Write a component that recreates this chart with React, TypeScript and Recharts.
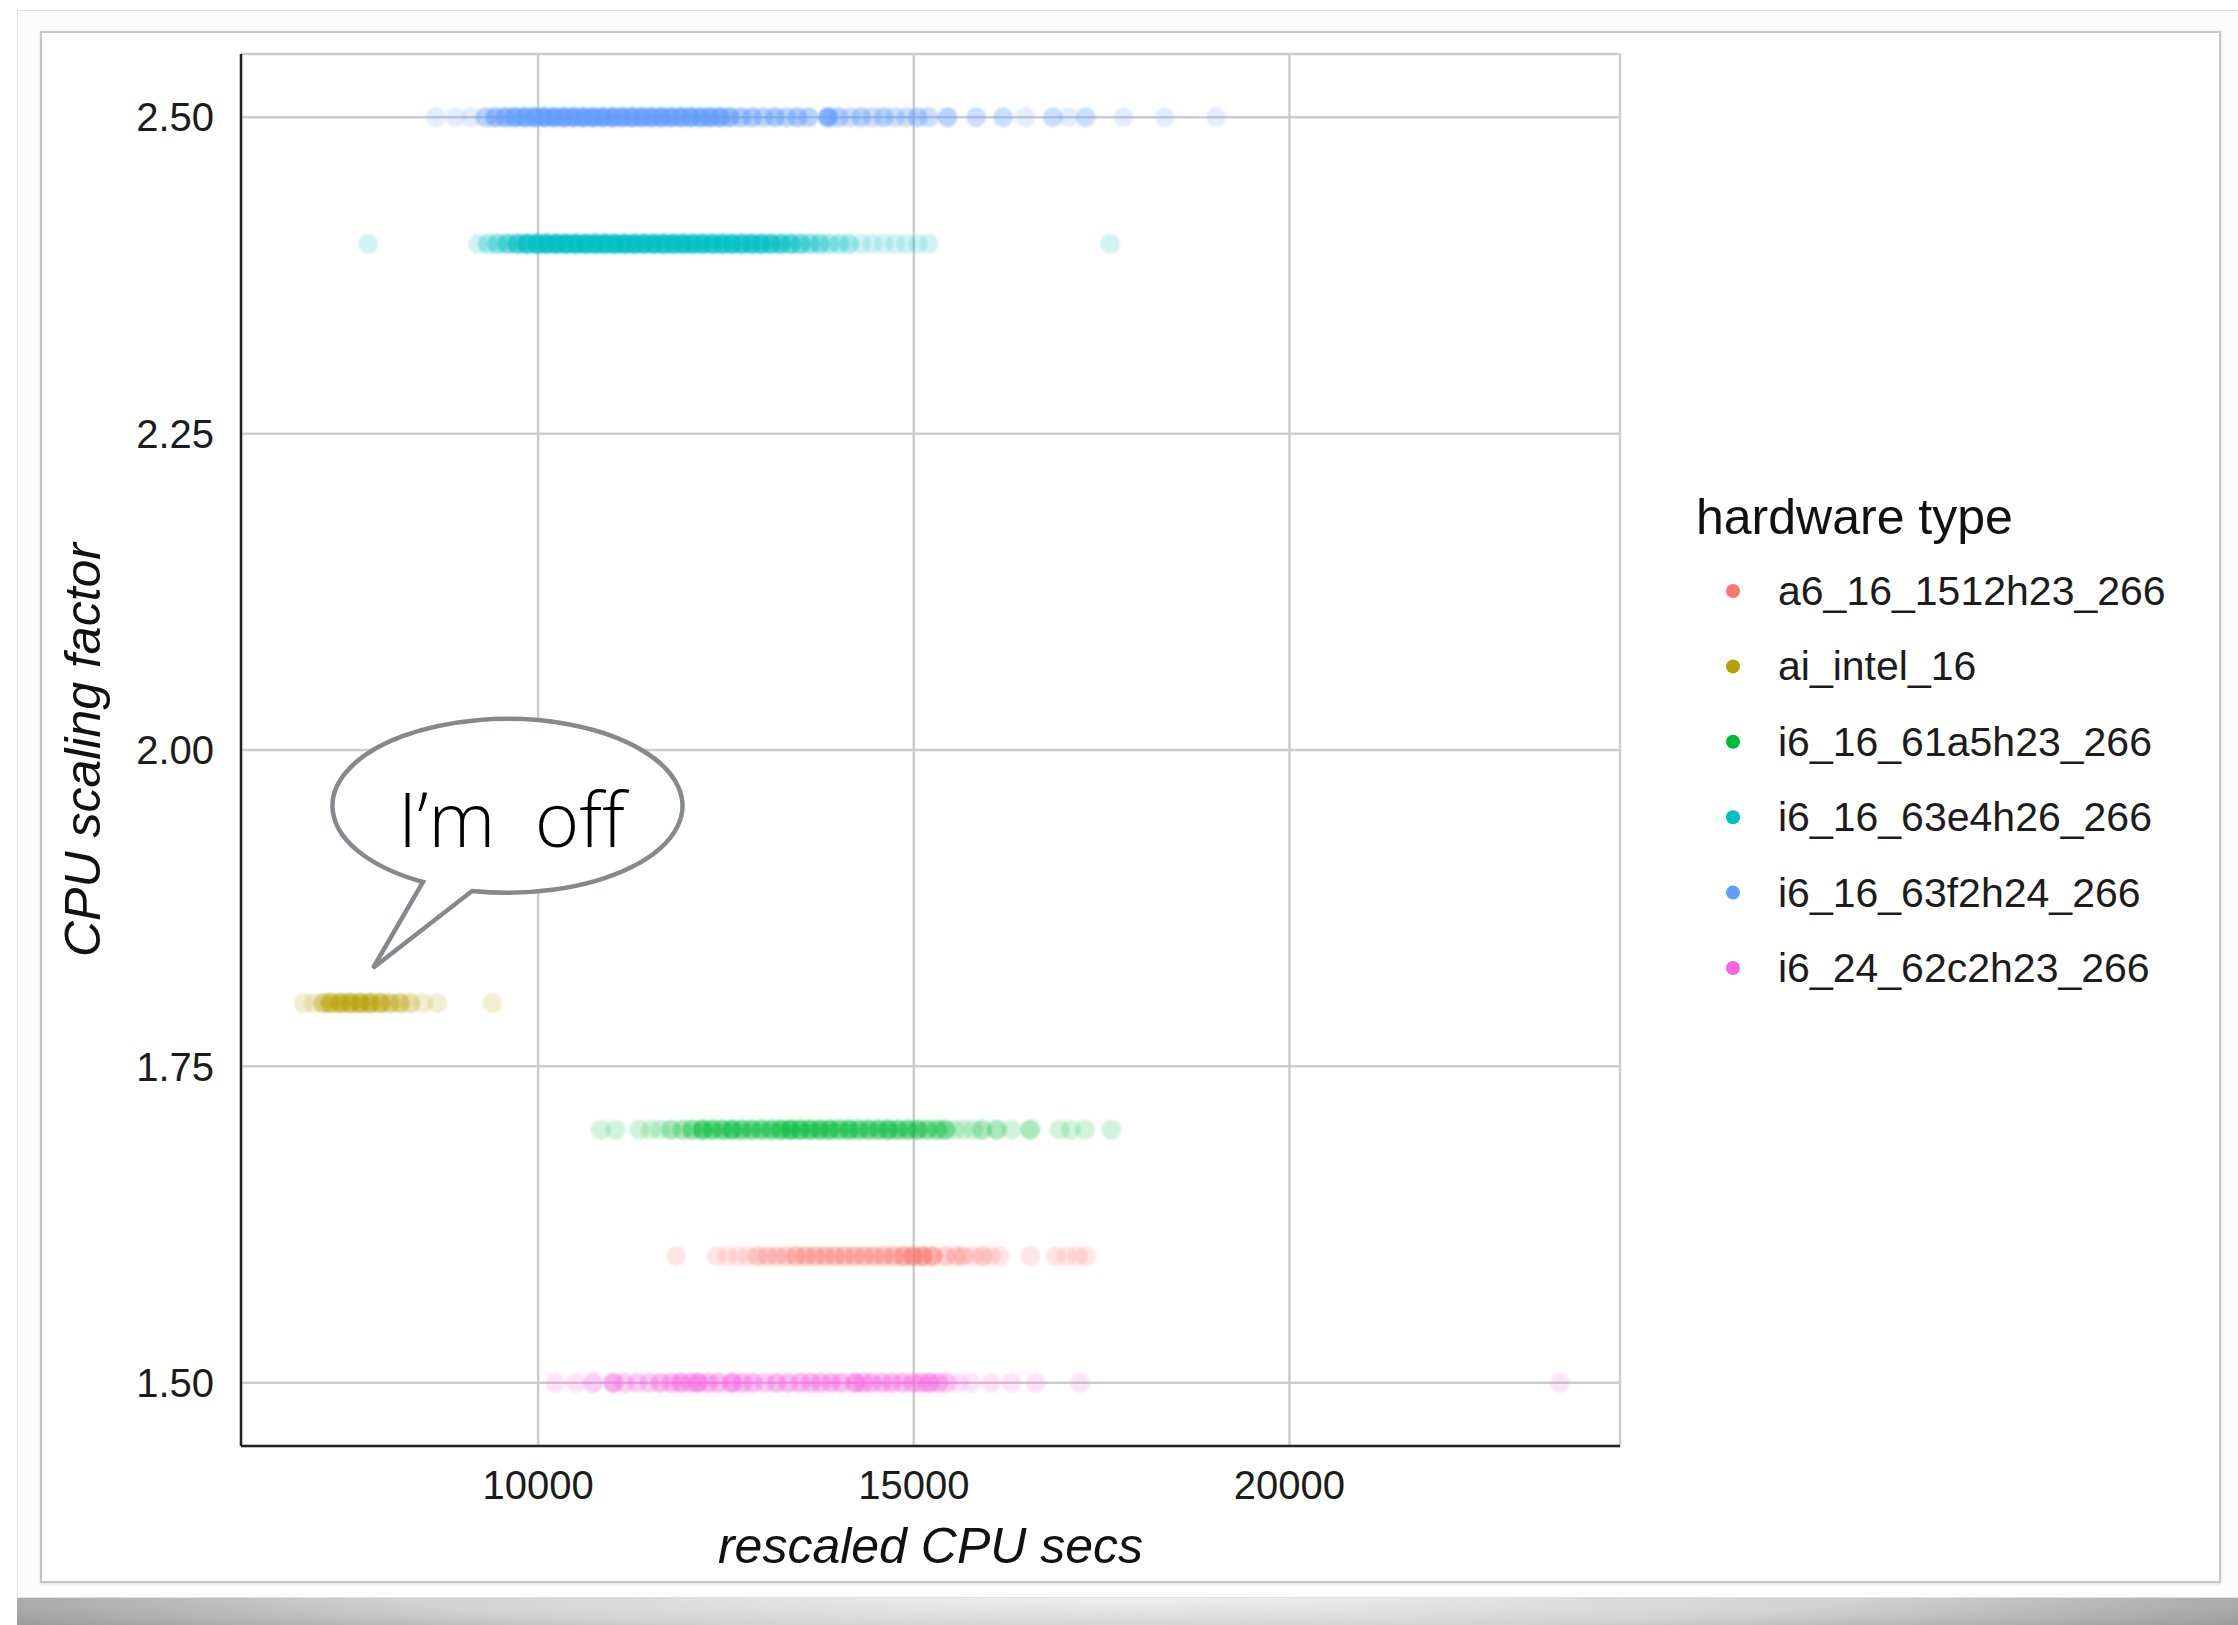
import React from 'react';
import { ScatterChart, Scatter, XAxis, YAxis, CartesianGrid } from 'recharts';

// hardware types, their scaling factor and colour (ggplot default hues)
const hardwareTypes = [
  'a6_16_1512h23_266',
  'ai_intel_16',
  'i6_16_61a5h23_266',
  'i6_16_63e4h26_266',
  'i6_16_63f2h24_266',
  'i6_24_62c2h23_266',
];
const scalingFactors = [1.6, 1.8, 1.7, 2.4, 2.5, 1.5];
const colors = ['#F8766D', '#B79F00', '#00BA38', '#00BFC4', '#619CFF', '#F564E3'];

// rescaled CPU secs, as [value, how many runs overlap there]
const a6Runs = [
  [11840, 1], [12380, 1], [12520, 1], [12660, 1], [12790, 1], [12920, 2], [13050, 2], [13180, 2],
  [13300, 2], [13430, 3], [13560, 3], [13690, 3], [13820, 3], [13950, 3], [14080, 3], [14210, 3],
  [14340, 3], [14470, 3], [14600, 3], [14730, 3], [14860, 4], [14990, 5], [15120, 5], [15250, 4],
  [15420, 2], [15560, 2], [15660, 2], [15790, 1], [15910, 2], [16030, 1], [16150, 1], [16550, 1],
  [16890, 1], [17040, 1], [17180, 1], [17290, 1],
];
const aiIntelRuns = [
  [6880, 1], [7010, 1], [7140, 3], [7240, 5], [7370, 6], [7500, 6], [7630, 6], [7760, 6],
  [7900, 5], [8030, 3], [8160, 3], [8300, 2], [8470, 1], [8660, 1], [9390, 1],
];
const i6a5Runs = [
  [10835, 1], [11030, 1], [11350, 1], [11500, 1], [11625, 1], [11770, 2], [11920, 2], [12050, 3],
  [12190, 5], [12320, 4], [12450, 4], [12580, 5], [12710, 4], [12840, 4], [12970, 4], [13100, 4],
  [13230, 5], [13360, 6], [13490, 5], [13620, 5], [13750, 5], [13880, 5], [14010, 4], [14140, 5],
  [14270, 4], [14400, 4], [14530, 4], [14660, 5], [14790, 4], [14920, 4], [15050, 4], [15180, 3],
  [15310, 3], [15420, 3], [15540, 1], [15660, 1], [15790, 1], [15910, 2], [16105, 2], [16300, 1],
  [16550, 2], [16940, 1], [17090, 1], [17280, 1], [17630, 1],
];
const i6e4Runs = [
  [7740, 1], [9200, 1], [9330, 2], [9460, 3], [9590, 4], [9720, 6], [9850, 9], [9980, 11],
  [10110, 12], [10240, 12], [10370, 12], [10500, 12], [10630, 12], [10760, 12], [10890, 12], [11020, 12],
  [11150, 12], [11280, 12], [11410, 11], [11540, 11], [11670, 11], [11800, 11], [11930, 11], [12060, 10],
  [12190, 10], [12320, 9], [12450, 9], [12580, 9], [12710, 8], [12840, 8], [12970, 8], [13100, 7],
  [13230, 6], [13360, 5], [13490, 4], [13620, 3], [13750, 3], [13880, 2], [14010, 2], [14140, 2],
  [14300, 1], [14450, 1], [14600, 1], [14750, 1], [14900, 1], [15050, 1], [15200, 1], [17610, 1],
];
const i6f2Runs = [
  [8640, 1], [8900, 1], [9110, 1], [9300, 3], [9430, 5], [9560, 6], [9690, 8], [9820, 9],
  [9950, 10], [10080, 11], [10210, 11], [10340, 11], [10470, 11], [10600, 11], [10730, 11], [10860, 11],
  [10990, 11], [11120, 10], [11250, 10], [11380, 10], [11510, 10], [11640, 10], [11770, 9], [11900, 9],
  [12030, 9], [12160, 8], [12290, 8], [12420, 8], [12550, 6], [12700, 4], [12850, 4], [13000, 3],
  [13150, 4], [13300, 3], [13450, 4], [13600, 3], [13860, 8], [14000, 3], [14150, 2], [14300, 3],
  [14450, 2], [14600, 3], [14750, 2], [14900, 2], [15050, 3], [15200, 2], [15450, 3], [15830, 2],
  [16190, 2], [16480, 1], [16850, 2], [17060, 1], [17290, 2], [17790, 1], [18340, 1], [19030, 1],
];
const i6c2Runs = [
  [10230, 1], [10500, 1], [10730, 2], [11000, 4], [11150, 2], [11320, 2], [11480, 2], [11630, 3],
  [11780, 3], [11900, 4], [12030, 3], [12130, 5], [12270, 3], [12400, 3], [12580, 5], [12720, 3],
  [12860, 3], [13020, 2], [13170, 3], [13330, 3], [13490, 3], [13630, 3], [13760, 3], [13900, 3],
  [14030, 3], [14220, 5], [14330, 3], [14440, 3], [14580, 3], [14710, 3], [14850, 3], [14990, 3],
  [15100, 3], [15210, 4], [15330, 3], [15440, 2], [15600, 1], [15760, 1], [16030, 1], [16300, 1],
  [16620, 1], [17210, 1], [23600, 1],
];
const runsByType = [a6Runs, aiIntelRuns, i6a5Runs, i6e4Runs, i6f2Runs, i6c2Runs];

const xTicks = [10000, 15000, 20000];
const yTicks = [1.5, 1.75, 2.0, 2.25, 2.5];

const FONT = '"Liberation Sans", Arial, Helvetica, sans-serif';
const ALPHA = 0.18;

const series = hardwareTypes.map((name, i) => ({
  name,
  color: colors[i],
  data: runsByType[i].map(([x, n]) => ({ x, y: scalingFactors[i], n })),
}));

// ggplot-ish translucent dot, softened a little like the screenshot
const makeDot = (color: string) => (props: any) => {
  const { cx, cy, payload } = props;
  const opacity = 1 - Math.pow(1 - ALPHA, payload.n);
  return (
    <circle cx={cx} cy={cy} r={10} fill={color} fillOpacity={opacity} filter="url(#soft)" />
  );
};

const XTitle = ({ viewBox }: any) => (
  <text
    x={viewBox.x + viewBox.width / 2}
    y={viewBox.y + 117}
    textAnchor="middle"
    fontSize={50}
    fontStyle="italic"
    fontFamily={FONT}
    fill="#111"
  >
    rescaled CPU secs
  </text>
);

const YTitle = ({ viewBox }: any) => {
  const x = viewBox.x + 59;
  const y = viewBox.y + viewBox.height / 2;
  return (
    <text
      x={x}
      y={y}
      transform={`rotate(-90, ${x}, ${y})`}
      textAnchor="middle"
      fontSize={50}
      fontStyle="italic"
      fontFamily={FONT}
      fill="#111"
    >
      CPU scaling factor
    </text>
  );
};

export default function App() {
  const tickStyle = { fontSize: 40, fill: '#1c1c1c', fontFamily: FONT };

  return (
    <div
      style={{
        position: 'absolute',
        left: 0,
        top: 0,
        width: 2238,
        height: 1625,
        background: '#fff',
        overflow: 'hidden',
        fontFamily: FONT,
      }}
    >
      {/* photo frame */}
      <div
        style={{
          position: 'absolute',
          left: 17,
          top: 10,
          width: 2240,
          height: 1588,
          border: '1px solid #e0e0e0',
          background: '#fcfcfc',
          boxSizing: 'border-box',
        }}
      />
      <div
        style={{
          position: 'absolute',
          left: 40,
          top: 31,
          width: 2181,
          height: 1552,
          border: '2px solid #c6c6c6',
          background: '#fff',
          boxSizing: 'border-box',
          boxShadow: '0 1px 3px rgba(0,0,0,0.12)',
        }}
      />
      <div
        style={{
          position: 'absolute',
          left: 17,
          top: 1598,
          width: 2221,
          height: 27,
          background:
            'radial-gradient(ellipse 72% 260% at 50% 0%, #f0f0f0 0%, #d2d2d2 45%, #a2a2a2 75%, #787878 100%)',
        }}
      />

      <div style={{ position: 'absolute', left: 0, top: 0 }}>
        <ScatterChart
          width={2238}
          height={1625}
          margin={{ top: 54, right: 618, bottom: 29, left: 41 }}
        >
          <defs>
            <filter id="soft" x="-50%" y="-50%" width="200%" height="200%">
              <feGaussianBlur stdDeviation={1.3} />
            </filter>
          </defs>
          <CartesianGrid stroke="#cdcdcd" strokeWidth={2.5} />
          <XAxis
            type="number"
            dataKey="x"
            domain={[6045, 24400]}
            ticks={xTicks}
            allowDataOverflow
            height={150}
            tick={tickStyle}
            tickLine={false}
            tickMargin={19}
            axisLine={{ stroke: '#222', strokeWidth: 2.5 }}
            label={<XTitle />}
          />
          <YAxis
            type="number"
            dataKey="y"
            domain={[1.45, 2.55]}
            ticks={yTicks}
            allowDataOverflow
            width={200}
            tick={tickStyle}
            tickLine={false}
            tickMargin={21}
            tickFormatter={(v: number) => v.toFixed(2)}
            axisLine={{ stroke: '#222', strokeWidth: 2.5 }}
            label={<YTitle />}
          />
          {series.map((s) => (
            <Scatter
              key={s.name}
              name={s.name}
              data={s.data}
              fill={s.color}
              shape={makeDot(s.color)}
              isAnimationActive={false}
            />
          ))}
        </ScatterChart>
      </div>

      {/* legend and speech bubble */}
      <svg
        width={2238}
        height={1625}
        style={{ position: 'absolute', left: 0, top: 0, pointerEvents: 'none' }}
      >
        <text x={1696} y={534} fontSize={50} fontFamily={FONT} fill="#111">
          hardware type
        </text>
        {series.map((s, i) => {
          const cy = 591 + i * 75.4;
          return (
            <g key={s.name}>
              <circle cx={1733} cy={cy} r={7} fill={s.color} />
              <text
                x={1778}
                y={cy}
                dominantBaseline="central"
                fontSize={41}
                fontFamily={FONT}
                fill="#1c1c1c"
              >
                {s.name}
              </text>
            </g>
          );
        })}

        <path
          d="M 472 891 A 175 87 0 1 0 423 882 L 373 968 Z"
          fill="#fff"
          stroke="#85898d"
          strokeWidth={4.5}
          strokeLinejoin="miter"
        />
        <text
          x={398}
          y={847}
          fontSize={76}
          fontWeight={300}
          fontFamily='"Open Sans", Lato, sans-serif'
          fill="#000"
          style={{ whiteSpace: 'pre' }}
        >
          I’m  off
        </text>
      </svg>
    </div>
  );
}
